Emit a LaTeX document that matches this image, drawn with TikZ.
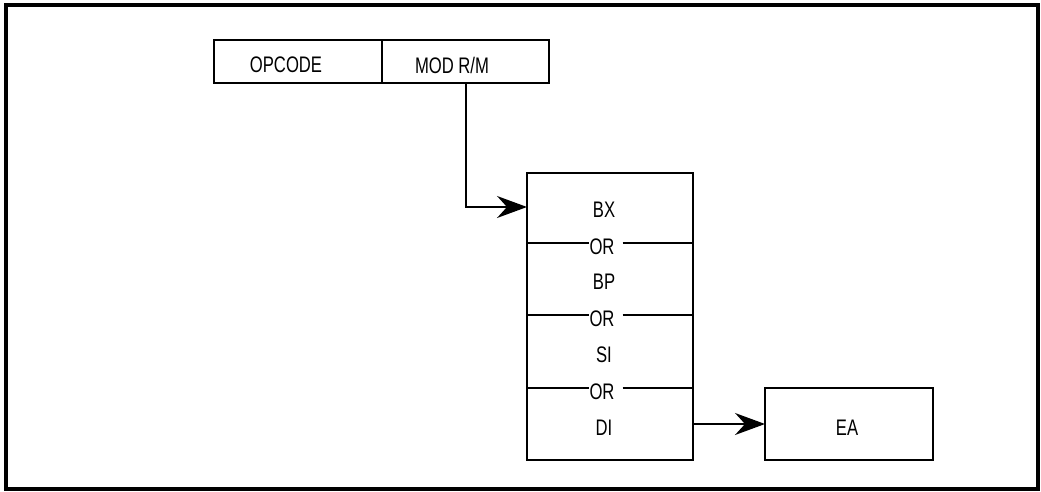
\documentclass[tikz,border=0pt]{standalone}
\usepackage{fontspec}
\setmainfont{Liberation Sans}[FakeStretch=0.74]
\usetikzlibrary{arrows.meta}
\begin{document}
\begin{tikzpicture}[x=1pt,y=-1pt,
  box/.style={draw,line width=1.7pt},
  lbl/.style={inner sep=0pt,font=\fontsize{22.5}{23}\selectfont},
  arr/.style={line width=1.4pt,-{Stealth[length=30pt,width=22pt,inset=10pt]}}]
\useasboundingbox (0,0) rectangle (1041,492);
\draw[line width=4.2pt] (6,5) rectangle (1038,489);
% top boxes
\draw[box] (214,40) rectangle (382,83);
\draw[box] (382,40) rectangle (549,83);
\node[lbl] (opc) at (286,65) {OPCODE};
\node[lbl] (mod) at (452,65) {MOD R/M};
\coordinate (modb) at (466,83);
% big box
\draw[box] (527,173) rectangle (693,460);
\coordinate (bigin) at (527,207);
\node[lbl] (bx) at (604,210) {BX};
\node[lbl] (or1) at (602,247) {OR};
\node[lbl] (bp) at (604,282) {BP};
\node[lbl] (or2) at (602,319) {OR};
\node[lbl] (si) at (604,355) {SI};
\node[lbl] (or3) at (602,392) {OR};
\node[lbl] (di) at (604,428) {DI};
\foreach \n/\y in {or1/243,or2/315,or3/388}{
  \draw[box] (527,\y) -- (\n.west |- 0,\y);
  \draw[box] ([xshift=8pt]\n.east |- 0,\y) -- (693,\y);
}
\coordinate (bigout) at (693,424);
% EA box
\draw[box] (765,388) rectangle (933,460);
\node[lbl] (ea) at (847,428) {EA};
\coordinate (eain) at (765,424);
% connectors
\draw[arr] (modb) |- (bigin);
\draw[arr] (bigout) -- (eain);
\end{tikzpicture}
\end{document}
